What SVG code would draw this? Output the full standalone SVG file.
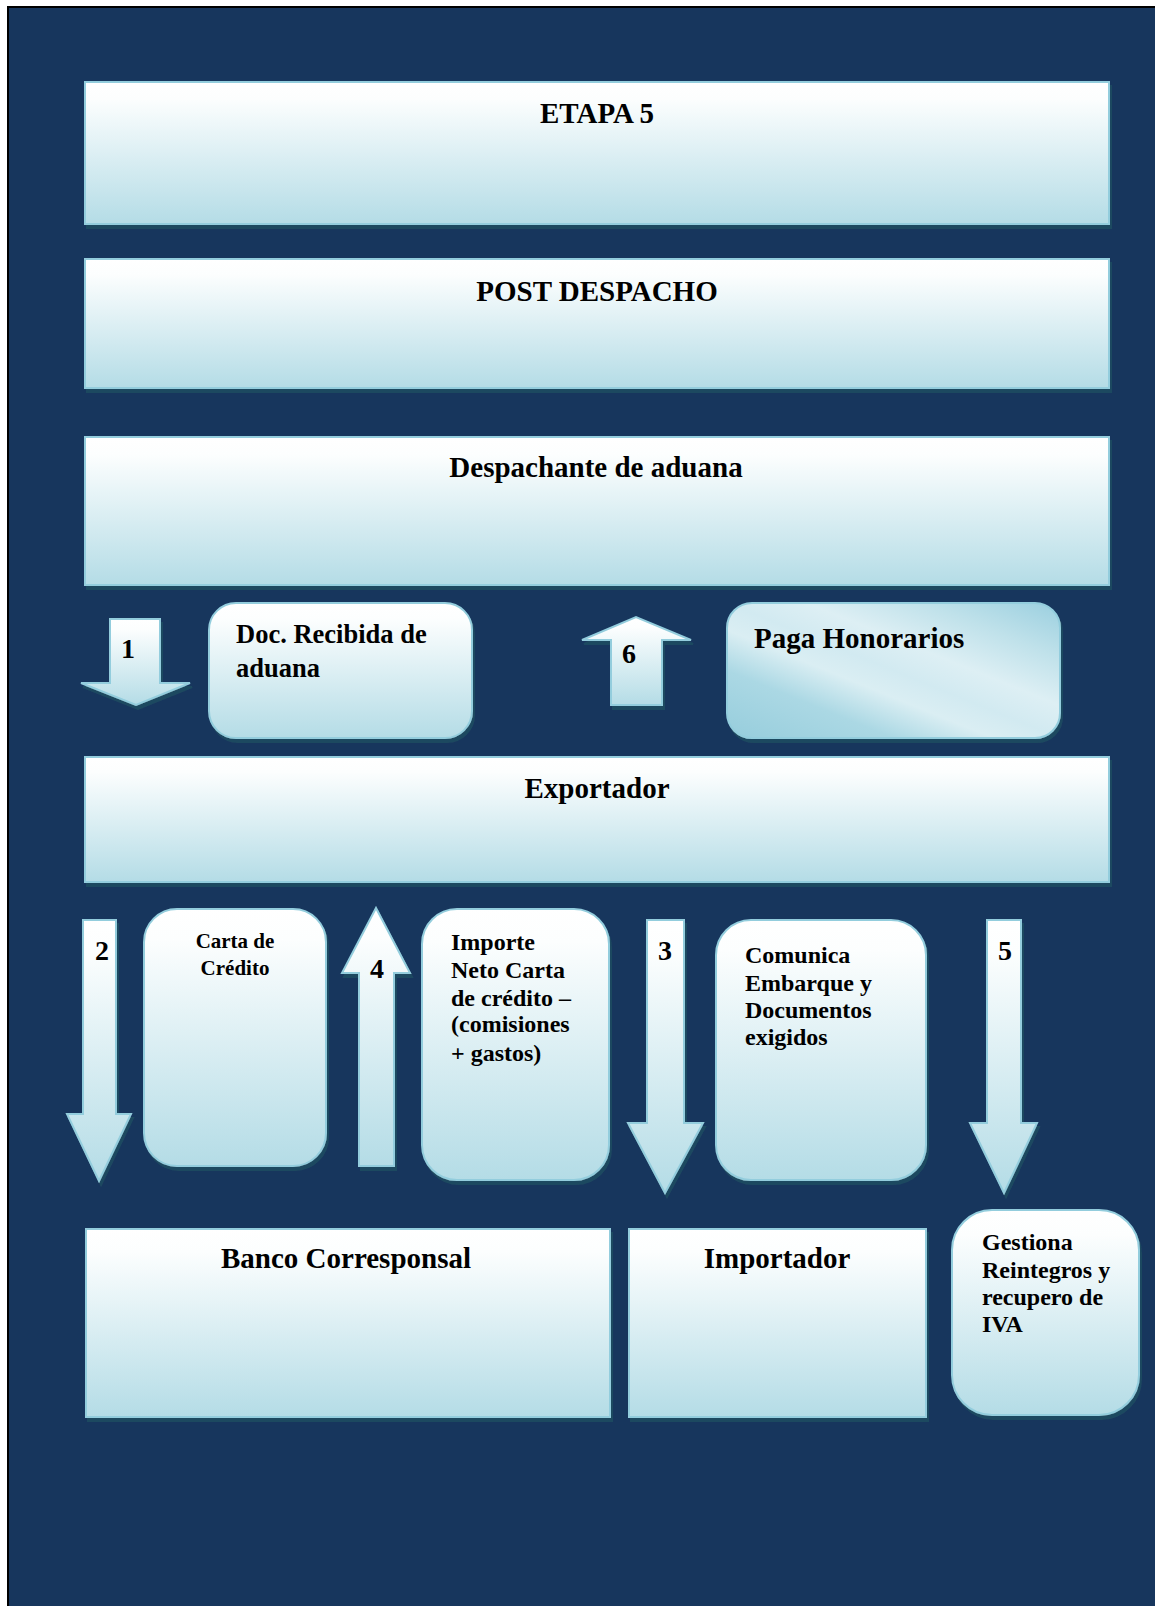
<svg xmlns="http://www.w3.org/2000/svg" width="1155" height="1606" viewBox="0 0 1155 1606">
  <defs>
    <linearGradient id="boxFill" x1="0" y1="0" x2="0" y2="1">
      <stop offset="0" stop-color="#FFFFFF"/>
      <stop offset="0.12" stop-color="#FCFEFE"/>
      <stop offset="1" stop-color="#B4DCE6"/>
    </linearGradient>
    <linearGradient id="bandFill" x1="0" y1="1" x2="1" y2="0">
      <stop offset="0" stop-color="#96CDDC"/>
      <stop offset="0.25" stop-color="#ABD8E4"/>
      <stop offset="0.4" stop-color="#DAEEF3"/>
      <stop offset="0.5" stop-color="#D2EAF1"/>
      <stop offset="0.62" stop-color="#DDEFF4"/>
      <stop offset="0.8" stop-color="#BFE1EA"/>
      <stop offset="1" stop-color="#9ACFDF"/>
    </linearGradient>
    <filter id="shadow" x="-5%" y="-5%" width="115%" height="120%">
      <feFlood flood-color="#1D4860" result="c"/>
      <feComposite in="c" in2="SourceAlpha" operator="in" result="s"/>
      <feOffset in="s" dx="2" dy="4" result="o"/>
      <feMerge>
        <feMergeNode in="o"/>
        <feMergeNode in="SourceGraphic"/>
      </feMerge>
    </filter>
  </defs>
  <style>
    .box { fill: url(#boxFill); stroke: #93CDDD; stroke-width: 2; filter: url(#shadow); }
    .band { fill: url(#bandFill); stroke: #93CDDD; stroke-width: 2; filter: url(#shadow); }
    .arrow { fill: url(#boxFill); stroke: #93CDDD; stroke-width: 2; filter: url(#shadow); }
    text { font-family: "Liberation Serif", "Times New Roman", serif; font-weight: bold; fill: #000000; }
    .h { font-size: 29px; text-anchor: middle; }
    .m { font-size: 24px; }
    .n { font-size: 28px; text-anchor: middle; }
  </style>

  <!-- page -->
  <rect x="0" y="0" width="1155" height="1606" fill="#FFFFFF"/>
  <rect x="7" y="6" width="1148" height="1600" fill="#000000"/>
  <rect x="9" y="8" width="1146" height="1598" fill="#17365D"/>

  <!-- connectors -->
  <g id="connectors">
    <g id="arrow-1">
      <path class="arrow" d="M110,619 H160 V683 H190 L136,705 L81,683 H110 Z"/>
      <text class="n" x="128" y="658">1</text>
    </g>
    <g id="arrow-6">
      <path class="arrow" d="M611,705 V640 H582 L636,617 L691,640 H662 V705 Z"/>
      <text class="n" x="629" y="663">6</text>
    </g>
    <g id="arrow-2">
      <path class="arrow" d="M83,920 H116 V1114 H131 L99,1181 L67,1114 H83 Z"/>
      <text class="n" x="102" y="960">2</text>
    </g>
    <g id="arrow-4">
      <path class="arrow" d="M359,1166 V973 H342 L376,908 L410,973 H394 V1166 Z"/>
      <text class="n" x="377" y="978">4</text>
    </g>
    <g id="arrow-3">
      <path class="arrow" d="M647,920 H684 V1123 H703 L665,1193 L628,1123 H647 Z"/>
      <text class="n" x="665" y="960">3</text>
    </g>
    <g id="arrow-5">
      <path class="arrow" d="M987,920 H1021 V1123 H1037 L1004,1193 L970,1123 H987 Z"/>
      <text class="n" x="1005" y="960">5</text>
    </g>
  </g>

  <!-- header bands -->
  <g id="etapa">
    <rect class="box" x="85" y="82" width="1024" height="142"/>
    <text class="h" x="597" y="123">ETAPA 5</text>
  </g>
  <g id="post-despacho">
    <rect class="box" x="85" y="259" width="1024" height="129"/>
    <text class="h" x="597" y="301">POST DESPACHO</text>
  </g>
  <g id="despachante">
    <rect class="box" x="85" y="437" width="1024" height="148"/>
    <text class="h" x="596" y="477">Despachante de aduana</text>
  </g>

  <!-- notes between despachante and exportador -->
  <g id="doc-recibida">
    <rect class="box" x="209" y="603" width="263" height="135" rx="27"/>
    <text x="236" y="643" style="font-size:26.5px">Doc. Recibida de</text>
    <text x="236" y="677" style="font-size:26.5px">aduana</text>
  </g>
  <g id="paga-honorarios">
    <rect class="band" x="727" y="603" width="333" height="135" rx="25"/>
    <text x="754" y="648" style="font-size:29px">Paga Honorarios</text>
  </g>

  <g id="exportador">
    <rect class="box" x="85" y="757" width="1024" height="125"/>
    <text class="h" x="597" y="798">Exportador</text>
  </g>

  <!-- notes between exportador and bottom row -->
  <g id="carta-credito">
    <rect class="box" x="144" y="909" width="182" height="257" rx="33"/>
    <text x="235" y="948" style="font-size:21px;text-anchor:middle">Carta de</text>
    <text x="235" y="975" style="font-size:21px;text-anchor:middle">Crédito</text>
  </g>
  <g id="importe-neto">
    <rect class="box" x="422" y="909" width="187" height="271" rx="35"/>
    <text class="m" x="451" y="950">Importe</text>
    <text class="m" x="451" y="978">Neto Carta</text>
    <text class="m" x="451" y="1006">de crédito –</text>
    <text class="m" x="451" y="1032">(comisiones</text>
    <text class="m" x="451" y="1061">+ gastos)</text>
  </g>
  <g id="comunica-embarque">
    <rect class="box" x="716" y="920" width="210" height="260" rx="35"/>
    <text class="m" x="745" y="963">Comunica</text>
    <text class="m" x="745" y="991">Embarque y</text>
    <text class="m" x="745" y="1018">Documentos</text>
    <text class="m" x="745" y="1045">exigidos</text>
  </g>

  <!-- bottom row -->
  <g id="banco-corresponsal">
    <rect class="box" x="86" y="1229" width="524" height="188"/>
    <text class="h" x="346" y="1268">Banco Corresponsal</text>
  </g>
  <g id="importador">
    <rect class="box" x="629" y="1229" width="297" height="188"/>
    <text class="h" x="777" y="1268">Importador</text>
  </g>
  <g id="gestiona-reintegros">
    <rect class="box" x="952" y="1210" width="187" height="205" rx="40"/>
    <text class="m" x="982" y="1250">Gestiona</text>
    <text class="m" x="982" y="1278">Reintegros y</text>
    <text class="m" x="982" y="1305">recupero de</text>
    <text class="m" x="982" y="1332">IVA</text>
  </g>
</svg>
